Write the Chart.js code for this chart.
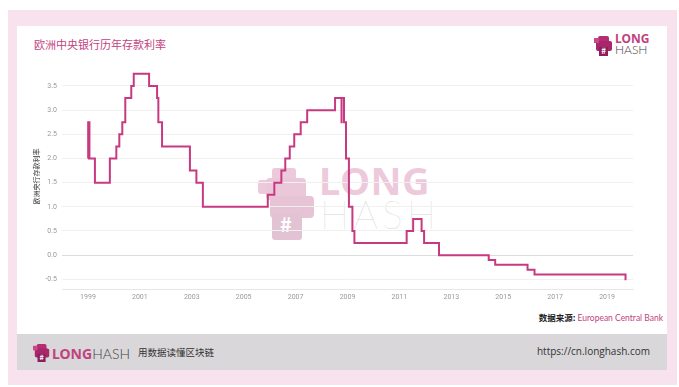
<!DOCTYPE html>
<html lang="zh">
  <head>
    <meta charset="UTF-8" />
    <title>欧洲中央银行历年存款利率</title>
    <script src="https://cdn.jsdelivr.net/npm/chart.js"></script>
    <style>
      html, body { margin: 0; padding: 0; background: #fff; }
      body { width: 679px; height: 387px; position: relative; overflow: hidden;
        font-family: "Noto Sans CJK SC", "Noto Sans", sans-serif; }
      .bg { position: absolute; left: 8px; top: 10px; width: 669px; height: 375px; background: #f8e2ed; }
      .card { position: absolute; left: 17px; top: 26px; width: 650px; height: 308px; background: #fff; }
      .foot { position: absolute; left: 17px; top: 334px; width: 650px; height: 36px; background: #d9d7d9; }
      .title { position: absolute; left: 34px; top: 36px; font-size: 11px; color: #c2437f; }
      .src { position: absolute; right: 16px; top: 311px; font-size: 8.5px; color: #222; font-weight: bold; }
      .src span { color: #c2437f; font-weight: normal; font-family: Lato, "Noto Sans", sans-serif; }
      .wm { position: absolute; left: 256px; top: 160px; opacity: 0.28; }
      .wm .long { position: absolute; left: 63px; top: -6px; font: bold 38px "Noto Sans", sans-serif; color: #c0437f; letter-spacing: 0.5px; }
      .wm .hash { position: absolute; left: 64px; top: 31px; font: 200 39px Lato, "Noto Sans", sans-serif; color: #666; letter-spacing: 4px; }
      .logo { position: absolute; }
      .logo .l1 { font-family: "Noto Sans", sans-serif; font-weight: bold; color: #c0437f; }
      .logo .l2 { font-family: Lato, "Noto Sans", sans-serif; font-weight: 300; color: #444; }
      .slogan { position: absolute; left: 138px; top: 345px; font-size: 9.5px; color: #333; }
      .url { position: absolute; right: 29px; top: 344px; font: 10px "Open Sans", sans-serif; color: #333; }
      #wrap { position: absolute; left: 20px; top: 55px; width: 620px; height: 250px; }
    </style>
  </head>
  <body>
    <div class="bg"></div>
    <div class="card"></div>
    <div class="foot"></div>
    <div class="title">欧洲中央银行历年存款利率</div>

    <!-- 右上角 logo -->
    <svg class="logo" style="left:594px;top:35px" width="20" height="22" viewBox="0 0 20 22">
      <rect x="4" y="1" width="11" height="8" rx="2" fill="#b52d72" />
      <rect x="2" y="6" width="16" height="10" rx="2" fill="#a8266a" />
      <rect x="0" y="3" width="5" height="5" fill="#c64a88" />
      <rect x="5" y="12" width="9" height="9" fill="#8e1f5c" />
      <text x="9.5" y="19" font-size="8" font-weight="bold" fill="#fff" text-anchor="middle">#</text>
    </svg>
    <div class="logo" style="left:615px;top:33px;line-height:11px">
      <div class="l1" style="font-size:12px">LONG</div>
      <div class="l2" style="font-size:12px">HASH</div>
    </div>

    <!-- 워터마크 -->
    <div class="wm">
      <svg width="62" height="82" viewBox="0 0 62 82" style="position:absolute;left:0;top:4px">
        <rect x="16" y="4" width="24" height="12" rx="3" fill="#c0437f" />
        <rect x="2" y="16" width="14" height="14" rx="3" fill="#c0437f" />
        <rect x="10" y="14" width="40" height="22" rx="4" fill="#b93c79" />
        <rect x="14" y="32" width="44" height="22" rx="4" fill="#a8306f" />
        <rect x="16" y="50" width="30" height="26" rx="3" fill="#9a2a66" />
        <text x="30" y="68" font-size="20" font-weight="bold" fill="#fff" text-anchor="middle">#</text>
      </svg>
      <div class="long">LONG</div>
      <div class="hash">HASH</div>
    </div>

    <div id="wrap"><canvas id="myChart"></canvas></div>

    <div class="src">数据来源: <span>European Central Bank</span></div>

    <!-- 하단 footer -->
    <svg class="logo" style="left:33px;top:343px" width="18" height="20" viewBox="0 0 20 22">
      <rect x="4" y="1" width="11" height="8" rx="2" fill="#b52d72" />
      <rect x="2" y="6" width="16" height="10" rx="2" fill="#a8266a" />
      <rect x="0" y="3" width="5" height="5" fill="#c64a88" />
      <rect x="5" y="12" width="9" height="9" fill="#8e1f5c" />
      <text x="9.5" y="19" font-size="8" font-weight="bold" fill="#fff" text-anchor="middle">#</text>
    </svg>
    <div class="logo" style="left:52px;top:344px;font-size:14px;line-height:18px">
      <span class="l1">LONG</span><span class="l2">HASH</span>
    </div>
    <div class="slogan">用数据读懂区块链</div>
    <div class="url">https://cn.longhash.com</div>

    <script>
      // 利率变动日期 / 存款利率 (%)
      const rateDates = [
        "1999-01-01", "1999-01-04", "1999-01-22", "1999-04-09", "1999-11-05",
        "2000-02-04", "2000-03-17", "2000-04-28", "2000-06-09", "2000-09-01",
        "2000-10-06", "2001-05-11", "2001-08-31", "2001-09-18", "2001-11-09",
        "2002-12-06", "2003-03-07", "2003-06-06", "2005-12-06", "2006-03-08",
        "2006-06-15", "2006-08-09", "2006-10-11", "2006-12-13", "2007-03-14",
        "2007-06-13", "2008-07-09", "2008-10-08", "2008-10-09", "2008-11-12",
        "2008-12-10", "2009-01-21", "2009-03-11", "2009-04-08", "2011-04-13",
        "2011-07-13", "2011-11-09", "2011-12-14", "2012-07-11", "2014-06-11",
        "2014-09-10", "2015-12-09", "2016-03-16", "2019-09-18", "2019-10-01",
      ];
      const rates = [
        2.0, 2.75, 2.0, 1.5, 2.0,
        2.25, 2.5, 2.75, 3.25, 3.5,
        3.75, 3.5, 3.25, 2.75, 2.25,
        1.75, 1.5, 1.0, 1.25, 1.5,
        1.75, 2.0, 2.25, 2.5, 2.75,
        3.0, 3.25, 2.75, 3.25, 2.75,
        2.0, 1.0, 0.5, 0.25, 0.5,
        0.75, 0.5, 0.25, 0.0, -0.1,
        -0.2, -0.3, -0.4, -0.5, -0.5,
      ];
      const xTickYears = [1999, 2001, 2003, 2005, 2007, 2009, 2011, 2013, 2015, 2017, 2019];
      const yTicks = [-0.5, 0.0, 0.5, 1.0, 1.5, 2.0, 2.5, 3.0, 3.5];

      // 날짜 -> 연도(소수)
      const toYear = (s) => {
        const d = new Date(s + "T00:00:00Z");
        const y = d.getUTCFullYear();
        const start = Date.UTC(y, 0, 1);
        return y + (d.getTime() - start) / (365 * 86400000);
      };
      const points = rateDates.map((d, i) => ({ x: toYear(d), y: rates[i] }));

      const ctx = document.querySelector("#myChart").getContext("2d");
      new Chart(ctx, {
        type: "line",
        data: {
          datasets: [
            {
              data: points,
              borderColor: "#c73a82",
              borderWidth: 2,
              pointRadius: 0,
              stepped: true,
              fill: false,
            },
          ],
        },
        options: {
          responsive: true,
          maintainAspectRatio: false,
          animation: false,
          layout: { padding: { left: 10, right: 7, top: 8, bottom: 0 } },
          plugins: { legend: { display: false }, tooltip: { enabled: false } },
          scales: {
            x: {
              type: "linear",
              min: 1998,
              max: 2020,
              afterBuildTicks: (axis) => {
                axis.ticks = xTickYears.map((v) => ({ value: v }));
              },
              afterFit: (axis) => { axis.height = 16; },
              ticks: {
                callback: (v) => String(v),
                color: "#999",
                font: { family: "Roboto", size: 7 },
                padding: 4,
                maxRotation: 0,
                autoSkip: false,
              },
              grid: { display: false, drawTicks: false },
              border: { display: true, color: "#e6e6e6" },
            },
            y: {
              min: -0.7,
              max: 3.95,
              afterBuildTicks: (axis) => {
                axis.ticks = yTicks.map((v) => ({ value: v }));
              },
              afterFit: (axis) => { axis.width = 32; },
              ticks: {
                callback: (v) => v.toFixed(1),
                color: "#999",
                font: { family: "Roboto", size: 7 },
                padding: 5,
              },
              grid: {
                drawTicks: false,
                color: (c) => (c.tick && c.tick.value === 0 ? "#dcdcdc" : "#f0f0f0"),
              },
              border: { display: false },
              title: {
                display: true,
                text: "欧洲央行存款利率",
                color: "#333",
                font: { family: "Noto Sans CJK SC", size: 7 },
                padding: { top: 2, bottom: 2 },
              },
            },
          },
        },
      });
    </script>
  </body>
</html>
